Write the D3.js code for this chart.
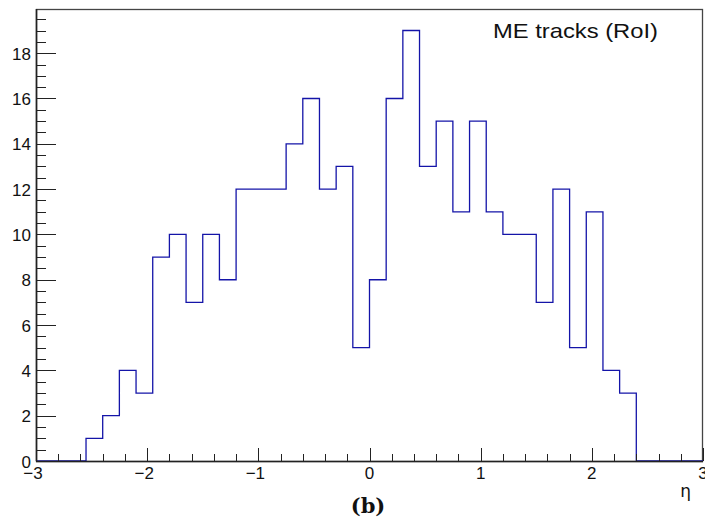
<!DOCTYPE html>
<html>
<head>
<meta charset="utf-8">
<script src="https://cdn.jsdelivr.net/npm/d3@7"></script>
<style>
  html, body { margin: 0; padding: 0; background: #fff; }
  svg { display: block; }
</style>
</head>
<body>
<svg id="chart" width="705" height="523"></svg>
<script>
// ---- data ----
const binStart = -3;
const binWidth = 0.15;
const counts = [
  0, 0, 0,
  1, 2, 4, 3, 9, 10, 7, 10, 8, 12, 12, 12, 14, 16, 12, 13, 5,
  8, 16, 19, 13, 15, 11, 15, 11, 10, 10, 7, 12, 5, 11, 4, 3,
  0, 0, 0, 0
];
const xTicks = [-3, -2, -1, 0, 1, 2, 3];
const yTicks = [0, 2, 4, 6, 8, 10, 12, 14, 16, 18];
const titleText = "ME tracks (RoI)";
const xTitle = "η";
const panelLabel = "(b)";

// ---- layout ----
const svg = d3.select("#chart");
const L = 36, R = 703, T = 9, B = 461;
const x = d3.scaleLinear().domain([-3, 3]).range([L, R]);
const y = d3.scaleLinear().domain([0, 19.95]).range([B, T]);
const blue = "#1414a8";
const axisColor = "#222";
const sans = "Liberation Sans, Arial, sans-serif";

// frame
svg.append("rect")
  .attr("x", L + 0.5).attr("y", T + 0.5)
  .attr("width", R - L - 1).attr("height", B - T)
  .attr("fill", "none").attr("stroke", "#444").attr("stroke-width", 1.3);

// histogram path
const pts = [];
counts.forEach((c, i) => {
  const x0 = binStart + i * binWidth, x1 = x0 + binWidth;
  pts.push([x0, c]); pts.push([x1, c]);
});
const line = d3.line().x(d => x(d[0])).y(d => y(d[1]));
svg.append("path").datum(pts)
  .attr("d", line)
  .attr("fill", "none").attr("stroke", blue).attr("stroke-width", 1.3);

// axes
const gx = svg.append("g");
gx.append("line").attr("x1", L).attr("x2", R).attr("y1", B + 0.5).attr("y2", B + 0.5)
  .attr("stroke", axisColor).attr("stroke-width", 1.3);
const xMinor = d3.range(-3, 3.0001, 0.2).map(v => +v.toFixed(2));
gx.selectAll("line.minor").data(xMinor).join("line").attr("class", "minor")
  .attr("x1", d => Math.round(x(d)) + 0.5).attr("x2", d => Math.round(x(d)) + 0.5)
  .attr("y1", B).attr("y2", B - 7)
  .attr("stroke", axisColor).attr("stroke-width", 1);
gx.selectAll("line.major").data(xTicks).join("line").attr("class", "major")
  .attr("x1", d => Math.round(x(d)) + 0.5).attr("x2", d => Math.round(x(d)) + 0.5)
  .attr("y1", B).attr("y2", B - 13)
  .attr("stroke", axisColor).attr("stroke-width", 1);
gx.selectAll("text").data(xTicks).join("text")
  .attr("x", d => x(d) - (d < 0 ? 3 : 0)).attr("y", 479)
  .attr("text-anchor", "middle")
  .attr("font-family", sans).attr("font-size", 17)
  .attr("fill", "#111")
  .text(d => d < 0 ? "\u2212" + Math.abs(d) : String(d));

const gy = svg.append("g");
gy.append("line").attr("x1", L + 0.5).attr("x2", L + 0.5).attr("y1", T).attr("y2", B)
  .attr("stroke", axisColor).attr("stroke-width", 1.6);
const yMinor = d3.range(0, 19.95, 0.5);
gy.selectAll("line.minor").data(yMinor).join("line").attr("class", "minor")
  .attr("x1", L).attr("x2", L + 10)
  .attr("y1", d => Math.round(y(d)) + 0.5).attr("y2", d => Math.round(y(d)) + 0.5)
  .attr("stroke", axisColor).attr("stroke-width", 1);
gy.selectAll("line.major").data(yTicks).join("line").attr("class", "major")
  .attr("x1", L).attr("x2", L + 20)
  .attr("y1", d => Math.round(y(d)) + 0.5).attr("y2", d => Math.round(y(d)) + 0.5)
  .attr("stroke", axisColor).attr("stroke-width", 1);
gy.selectAll("text").data(yTicks).join("text")
  .attr("x", 31).attr("y", d => y(d) + 6.5)
  .attr("text-anchor", "end")
  .attr("font-family", sans).attr("font-size", 17)
  .attr("fill", "#111")
  .text(d => d);

// title
svg.append("text")
  .attr("x", 493).attr("y", 38)
  .attr("font-family", sans).attr("font-size", 21)
  .attr("textLength", 165).attr("lengthAdjust", "spacingAndGlyphs")
  .attr("fill", "#111")
  .text(titleText);

// x axis title
svg.append("text")
  .attr("x", 691).attr("y", 497)
  .attr("text-anchor", "end")
  .attr("font-family", "DejaVu Sans, sans-serif").attr("font-size", 17)
  .attr("fill", "#111")
  .text(xTitle);

// panel label
svg.append("text")
  .attr("x", 368).attr("y", 513)
  .attr("text-anchor", "middle")
  .attr("font-family", "DejaVu Serif, serif").attr("font-weight", "bold").attr("font-size", 21)
  .attr("fill", "#111")
  .text(panelLabel);
</script>
</body>
</html>
